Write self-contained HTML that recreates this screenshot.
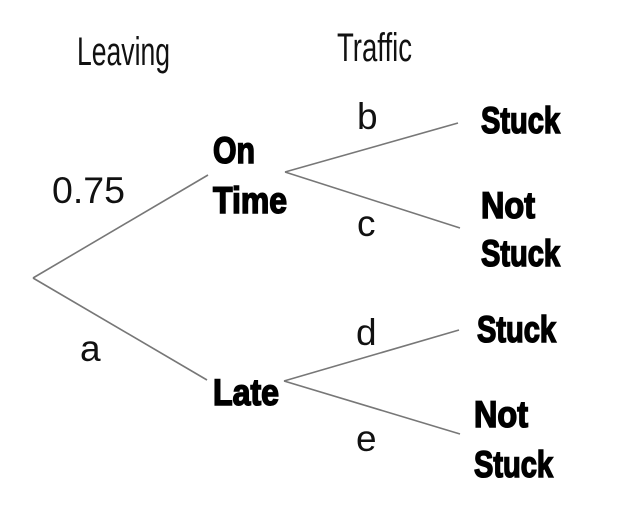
<!DOCTYPE html>
<html><head><meta charset="utf-8"><style>
html,body{margin:0;padding:0;background:#fff;}
svg{display:block;}
.h{font-family:"Liberation Sans Narrow","Liberation Sans",sans-serif;font-size:40px;fill:#111;}
.b{font-family:"Liberation Sans",sans-serif;font-weight:bold;font-size:37px;fill:#000;stroke:#000;stroke-width:1.6;}
.p{font-family:"Liberation Sans",sans-serif;font-size:37px;fill:#111;}
</style></head><body>
<svg width="634" height="514" viewBox="0 0 634 514" xmlns="http://www.w3.org/2000/svg">
<g stroke="#777" stroke-width="1.6" fill="none">
<line x1="33" y1="278" x2="208" y2="175"/>
<line x1="33" y1="278" x2="207" y2="380"/>
<line x1="285" y1="172" x2="458" y2="123"/>
<line x1="285" y1="172" x2="460" y2="228"/>
<line x1="284" y1="381" x2="459" y2="330"/>
<line x1="284" y1="381" x2="460" y2="434"/>
</g>
<text class="h" x="77" y="65" textLength="93" lengthAdjust="spacingAndGlyphs">Leaving</text>
<text class="h" x="337" y="61" textLength="75" lengthAdjust="spacingAndGlyphs">Traffic</text>
<text class="p" x="52" y="203" textLength="73" lengthAdjust="spacingAndGlyphs">0.75</text>
<text class="p" x="80" y="361">a</text>
<text class="p" x="357" y="129">b</text>
<text class="p" x="357" y="236">c</text>
<text class="p" x="356" y="345">d</text>
<text class="p" x="356" y="451">e</text>
<text class="b" x="213" y="163" textLength="42" lengthAdjust="spacingAndGlyphs">On</text>
<text class="b" x="213" y="213" textLength="74" lengthAdjust="spacingAndGlyphs">Time</text>
<text class="b" x="213" y="405" textLength="66" lengthAdjust="spacingAndGlyphs">Late</text>
<text class="b" x="481" y="133" textLength="79" lengthAdjust="spacingAndGlyphs">Stuck</text>
<text class="b" x="481" y="218" textLength="54" lengthAdjust="spacingAndGlyphs">Not</text>
<text class="b" x="481" y="266" textLength="79" lengthAdjust="spacingAndGlyphs">Stuck</text>
<text class="b" x="477" y="342" textLength="79" lengthAdjust="spacingAndGlyphs">Stuck</text>
<text class="b" x="474" y="427" textLength="54" lengthAdjust="spacingAndGlyphs">Not</text>
<text class="b" x="474" y="477" textLength="79" lengthAdjust="spacingAndGlyphs">Stuck</text>
</svg>
</body></html>
